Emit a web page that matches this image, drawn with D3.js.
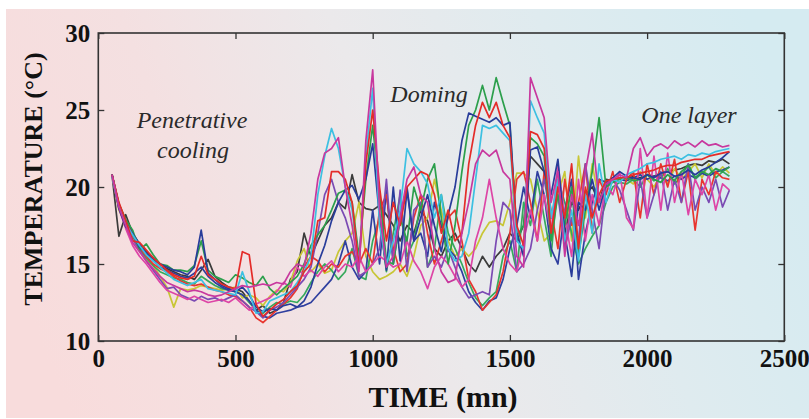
<!DOCTYPE html>
<html>
<head>
<meta charset="utf-8">
<script src="https://cdn.jsdelivr.net/npm/d3@7"></script>
<style>
  body { margin: 0; background: #ffffff; }
  svg { display: block; }
</style>
</head>
<body>
<div id="chart"></div>
<script>
// time axis (minutes) shared by every probe
var times = [50, 75, 100, 125, 150, 175, 200, 225, 250, 275,
  300, 325, 350, 375, 400, 425, 450, 475, 500, 525,
  550, 575, 600, 625, 650, 675, 700, 725, 750, 775,
  800, 825, 850, 875, 900, 925, 950, 975, 1000, 1025,
  1050, 1075, 1100, 1125, 1150, 1175, 1200, 1225, 1250, 1275,
  1300, 1325, 1350, 1375, 1400, 1425, 1450, 1475, 1500, 1525,
  1550, 1575, 1600, 1625, 1650, 1675, 1700, 1725, 1750, 1775,
  1800, 1825, 1850, 1875, 1900, 1925, 1950, 1975, 2000, 2025,
  2050, 2075, 2100, 2125, 2150, 2175, 2200, 2225, 2250, 2275, 2300];

// temperature series (deg C), one per probe
var gray = [20.8, 16.8, 18.2, 17.0, 16.3, 15.8, 15.4, 15.0, 14.7, 14.5,
  14.3, 14.2, 14.0, 14.6, 15.3, 14.2, 13.8, 13.5, 13.4, 13.2,
  12.6, 12.0, 12.3, 11.8, 12.0, 12.5, 14.0, 14.5, 17.0, 15.5,
  16.5, 17.5, 18.0, 19.0, 18.6, 20.8, 19.0, 18.6, 18.5, 18.8,
  18.2, 17.5, 16.5, 17.5, 17.0, 18.5, 17.8, 16.0, 15.5, 16.5,
  17.0, 16.0, 15.0, 14.5, 15.5, 14.8, 15.5, 16.0, 17.0, 16.5,
  17.5, 22.0, 21.5, 21.0, 18.0, 19.5, 17.0, 19.0, 18.5, 19.5,
  20.0, 19.0, 20.5, 20.4, 20.6, 20.5, 20.7, 20.6, 20.8, 20.7,
  20.9, 21.0, 21.1, 21.2, 21.4, 21.5, 21.4, 21.7, 21.6, 21.8, 21.5];

var yellow = [20.8, 18.5, 17.6, 16.8, 16.0, 15.3, 14.9, 14.2, 13.5, 12.2,
  13.4, 13.3, 13.4, 13.6, 13.5, 13.4, 13.3, 13.4, 13.5, 12.8,
  13.0, 12.8, 12.3, 12.9, 13.3, 13.2, 13.8, 15.2, 16.0, 14.5,
  15.0, 14.4, 14.6, 15.8, 16.5, 17.0, 19.0, 15.5, 14.5, 14.0,
  14.2, 14.5, 15.0, 14.2, 15.5, 17.5, 18.0, 20.5, 18.5, 16.5,
  15.5, 16.0, 15.5, 16.0, 17.0, 17.7, 17.8, 17.5, 19.0, 20.9,
  20.9, 20.5, 18.5, 16.5, 17.0, 19.5, 21.0, 16.5, 22.0, 18.0,
  21.5, 19.0, 20.0, 20.4, 20.6, 20.5, 20.2, 21.0, 20.5, 20.0,
  20.8, 20.2, 21.2, 20.5, 21.0, 21.5, 20.6, 21.5, 20.8, 21.3, 20.9];

var green2 = [20.8, 18.7, 17.6, 16.8, 16.0, 15.4, 14.9, 14.5, 14.3, 14.1,
  14.0, 13.8, 13.7, 14.2, 13.9, 13.6, 13.4, 13.3, 13.2, 13.0,
  12.5, 12.0, 11.8, 12.2, 12.5, 12.4, 12.6, 12.5, 13.0, 13.8,
  14.5, 15.0, 14.6, 14.0, 14.5, 16.0, 14.2, 14.0, 16.5, 18.0,
  14.5, 17.0, 19.5, 15.5, 16.5, 19.0, 14.8, 16.0, 19.5, 17.0,
  16.0, 15.0, 13.8, 12.8, 12.3, 12.8, 13.2, 15.5, 16.5, 14.5,
  19.0, 17.5, 20.5, 18.0, 15.5, 20.5, 19.0, 17.0, 15.0, 16.0,
  16.8, 17.5, 19.0, 20.0, 20.3, 20.2, 20.5, 20.0, 20.8, 20.4,
  20.6, 21.2, 20.2, 20.7, 21.5, 20.5, 20.9, 21.3, 20.6, 21.0, 20.7];

var blue2 = [20.8, 18.9, 17.8, 17.0, 16.3, 15.7, 15.2, 14.8, 14.6, 14.4,
  14.2, 14.1, 14.4, 14.8, 14.2, 13.8, 13.5, 13.3, 13.2, 13.0,
  12.6, 12.0, 11.6, 11.5, 11.8, 11.9, 12.0, 12.2, 12.3, 12.5,
  13.0, 13.5, 14.0, 15.0, 16.5, 14.8, 14.0, 14.5, 18.5, 15.0,
  19.8, 15.0, 18.0, 20.0, 16.5, 17.0, 15.5, 19.0, 17.5, 16.0,
  15.5, 14.5, 13.2, 12.5, 12.0, 12.6, 12.8, 14.0, 16.0, 17.5,
  20.0, 18.0, 21.0, 19.5, 16.0, 15.0, 18.5, 20.5, 14.0, 17.0,
  19.0, 20.5, 20.3, 20.6, 20.5, 20.4, 20.6, 20.8, 20.5, 20.7,
  20.6, 20.4, 20.7, 20.5, 20.8, 20.6, 20.9, 20.7, 21.0, 21.1, 21.3];

var red2 = [20.8, 18.8, 17.7, 16.9, 16.1, 15.5, 15.0, 14.7, 14.5, 14.2,
  13.9, 13.7, 13.6, 13.7, 13.5, 13.3, 13.2, 13.0, 12.9, 12.6,
  12.2, 11.5, 11.2, 11.6, 12.0, 12.4, 12.8, 13.4, 14.8, 15.5,
  15.2, 14.5, 15.0, 14.8, 15.5, 15.8, 15.0, 16.0, 15.0, 18.5,
  19.5, 16.0, 14.5, 15.0, 18.0, 19.5, 17.0, 15.0, 16.5, 18.0,
  18.5, 16.5, 14.0, 13.2, 12.0, 12.5, 13.0, 14.5, 17.0, 20.5,
  21.0, 19.0, 16.5, 21.0, 18.5, 16.0, 20.5, 17.5, 19.0, 21.5,
  17.0, 20.5, 19.5, 21.0, 19.0, 20.5, 21.0, 18.0, 21.5, 19.5,
  21.5, 20.0, 21.8, 19.0, 21.0, 17.2, 20.5, 19.5, 21.0, 20.6, 20.5];

var purple = [20.8, 18.8, 17.5, 16.6, 15.9, 15.2, 14.6, 14.0, 13.4, 13.5,
  13.0, 12.8, 12.6, 12.9, 12.7, 12.8, 12.6, 12.8, 13.0, 12.6,
  12.2, 11.9, 11.5, 12.0, 12.2, 12.5, 13.0, 13.5, 14.0, 14.8,
  17.0, 19.5, 20.5, 19.0, 18.0, 16.5, 14.2, 14.5, 15.0, 16.0,
  20.5, 15.0, 19.8, 14.5, 18.5, 19.0, 14.8, 15.5, 14.8, 16.0,
  14.8, 13.5, 12.8, 13.0, 13.2, 13.0, 16.5, 19.0, 18.5, 14.5,
  15.0, 16.0, 18.5, 20.5, 18.0, 19.5, 16.0, 18.0, 16.5, 21.5,
  18.5, 16.0, 20.0, 20.5, 19.8, 18.5, 17.2, 20.5, 18.0, 19.5,
  21.0, 18.5, 20.5, 19.0, 21.5, 18.5, 20.0, 19.0, 20.5, 18.7, 19.8];

var pink = [20.7, 18.6, 17.3, 16.2, 15.5, 15.0, 14.4, 13.8, 13.3, 13.1,
  12.9, 12.7, 12.9, 12.7, 12.5, 12.6, 12.7, 12.5, 12.8, 12.4,
  12.0, 12.4, 12.6, 12.8, 13.2, 13.8, 13.5, 14.8, 14.2, 14.6,
  14.2, 14.8, 15.2, 14.5, 15.0, 14.8, 15.5, 14.5, 15.0, 15.5,
  15.2, 14.8, 15.0, 16.5, 15.2, 14.5, 13.4, 14.8, 15.5, 15.0,
  14.2, 13.5, 14.0, 16.5, 18.0, 20.5, 18.0, 16.0, 15.0, 14.5,
  16.5, 18.5, 16.5, 19.5, 17.0, 21.5, 18.0, 15.5, 20.5, 16.5,
  19.5, 17.5, 20.2, 19.5, 21.0, 18.0, 17.3, 22.5, 18.0, 22.0,
  18.5, 22.2, 19.0, 21.0, 18.2, 20.5, 19.5, 20.8, 18.5, 20.2, 19.8];

var green = [20.8, 18.9, 17.9, 17.2, 15.9, 16.3, 15.6, 15.0, 14.9, 14.6,
  14.6, 14.5, 14.9, 16.5, 14.6, 14.2, 14.0, 13.8, 14.3, 14.1,
  13.8, 13.6, 14.2, 13.4, 13.0, 13.4, 13.8, 14.2, 15.0, 16.2,
  16.9, 17.5, 18.5, 19.6, 19.8, 19.0, 15.5, 20.5, 24.0, 19.5,
  15.2, 15.0, 18.0, 16.5, 20.0, 18.5, 20.5, 21.5, 18.0, 15.0,
  17.5, 21.0, 24.0, 25.0, 26.6, 25.0, 27.1, 25.5, 24.0, 16.8,
  17.5, 23.2, 22.8, 22.0, 16.5, 19.5, 17.5, 20.0, 15.5, 18.5,
  21.0, 24.5, 20.0, 20.3, 20.5, 20.6, 20.4, 20.5, 20.8, 20.5,
  20.3, 20.8, 20.4, 21.0, 21.4, 20.6, 21.0, 20.8, 21.2, 21.0, 21.3];

var blue = [20.8, 18.6, 17.4, 17.0, 16.1, 15.7, 15.3, 15.0, 14.8, 14.6,
  14.5, 14.3, 14.8, 17.2, 14.4, 14.0, 13.6, 13.4, 13.2, 13.5,
  13.0, 12.2, 11.9, 12.1, 12.0, 12.3, 12.4, 12.2, 12.6, 13.5,
  15.0, 16.2, 17.8, 19.0, 19.8, 20.1, 19.2, 20.5, 22.8, 18.0,
  14.6, 20.0, 15.2, 19.8, 16.5, 18.0, 19.5, 17.5, 15.8, 18.2,
  20.0, 23.0, 24.8, 24.6, 24.4, 24.2, 24.5, 24.0, 24.2, 17.0,
  15.5, 22.4, 22.6, 21.0, 19.5, 21.8, 17.0, 14.2, 19.0, 18.5,
  20.5, 18.5, 20.2, 20.6, 21.0, 20.7, 20.6, 20.5, 20.8, 20.6,
  20.9, 21.0, 20.7, 20.8, 21.1, 20.8, 21.1, 21.3, 21.6, 21.9, 22.3];

var cyan = [20.7, 18.8, 17.6, 16.9, 16.2, 15.6, 15.2, 14.8, 14.4, 14.0,
  13.8, 13.6, 13.8, 14.0, 13.4, 13.3, 13.2, 13.1, 13.0, 14.5,
  13.2, 11.8, 11.9, 12.6, 12.8, 13.0, 13.2, 13.8, 14.5, 15.5,
  19.5, 22.0, 23.8, 22.5, 20.0, 18.5, 15.0, 22.0, 26.4, 17.5,
  15.0, 16.5, 18.5, 22.5, 21.5, 21.0, 20.2, 18.0, 19.5, 16.0,
  15.2, 15.5, 17.0, 20.5, 24.0, 23.8, 24.0, 23.5, 23.0, 16.5,
  16.0, 25.6, 24.5, 23.5, 18.0, 20.5, 16.5, 18.5, 15.2, 19.5,
  17.0, 21.5, 19.0, 20.5, 20.3, 20.8, 21.0, 21.2, 21.5, 21.6,
  21.8, 21.9, 22.0, 21.8, 22.1, 22.0, 22.2, 22.1, 22.3, 22.4, 22.5];

var red = [20.8, 19.0, 17.8, 16.5, 16.4, 15.9, 15.4, 15.0, 14.6, 14.3,
  14.1, 14.0, 14.2, 15.5, 14.3, 14.0, 13.7, 13.5, 13.4, 15.8,
  15.6, 12.4, 11.6, 12.0, 12.4, 12.7, 13.2, 13.6, 14.5, 15.0,
  17.8, 18.0, 21.0, 21.0, 20.5, 19.0, 14.8, 21.5, 25.0, 20.0,
  16.5, 19.0, 17.5, 20.0, 20.5, 21.0, 20.8, 19.5, 17.0, 18.5,
  16.5, 17.0, 21.5, 24.0, 25.5, 24.5, 25.5, 24.0, 23.2, 17.5,
  16.2, 23.6, 23.4, 22.5, 17.0, 20.0, 18.0, 21.5, 16.0, 20.0,
  18.0, 19.5, 20.4, 20.5, 20.6, 20.6, 20.8, 20.9, 21.0, 21.1,
  21.3, 21.4, 21.4, 21.6, 21.7, 21.8, 21.8, 22.0, 22.1, 22.2, 22.3];

var magenta = [20.8, 18.7, 17.5, 16.4, 15.8, 15.2, 14.7, 14.2, 13.8, 13.6,
  13.4, 13.2, 13.3, 13.2, 13.0, 12.9, 13.0, 13.2, 13.4, 13.6,
  13.5, 13.6, 13.7, 13.6, 13.8, 13.7, 14.5, 15.0, 14.8, 17.0,
  20.5, 22.2, 22.5, 23.2, 20.0, 17.5, 14.5, 23.0, 27.6, 18.5,
  14.8, 15.5, 18.0, 20.5, 21.3, 19.5, 19.0, 16.0, 14.5, 13.8,
  14.0, 17.0, 19.0, 21.5, 22.4, 22.0, 22.4, 21.0, 20.5, 15.5,
  14.8, 27.1, 25.8, 24.5, 19.0, 21.0, 15.5, 19.5, 17.5, 21.0,
  23.5, 19.0, 20.2, 20.5, 20.8, 20.6, 22.5, 23.2, 22.0, 22.6,
  22.8, 22.5, 23.0, 22.7, 22.9, 22.6, 23.0, 22.7, 22.8, 22.6, 22.7];

var series = [
  {values: gray, color: "#3b3b3b"},
  {values: yellow, color: "#c8c636"},
  {values: green2, color: "#36a95c"},
  {values: blue2, color: "#2f3f9f"},
  {values: red2, color: "#e8352f"},
  {values: purple, color: "#7b4bb3"},
  {values: pink, color: "#dd45a6"},
  {values: green, color: "#2c9f4c"},
  {values: blue, color: "#283c9a"},
  {values: cyan, color: "#3cc0e2"},
  {values: red, color: "#e42c29"},
  {values: magenta, color: "#c8389e"}
];

var xTicks = [0, 500, 1000, 1500, 2000, 2500];
var yTicks = [10, 15, 20, 25, 30];

// set the dimensions of the graph
var W = 809, H = 419;
var plotL = 98.3, plotR = 784.3, plotT = 33, plotB = 341;

var svg = d3.select("#chart")
  .append("svg")
  .attr("width", W)
  .attr("height", H);

// background gradient
var defs = svg.append("defs");
var grad = defs.append("linearGradient")
  .attr("id", "bg")
  .attr("x1", "0%").attr("y1", "60%")
  .attr("x2", "100%").attr("y2", "40%");
grad.append("stop").attr("offset", "0%").attr("stop-color", "#f8dcdc");
grad.append("stop").attr("offset", "25%").attr("stop-color", "#f4e0e1");
grad.append("stop").attr("offset", "50%").attr("stop-color", "#ebe9eb");
grad.append("stop").attr("offset", "75%").attr("stop-color", "#dfebef");
grad.append("stop").attr("offset", "100%").attr("stop-color", "#d5ebf1");

svg.append("rect")
  .attr("x", 6).attr("y", 9)
  .attr("width", W - 6).attr("height", H - 10)
  .attr("fill", "url(#bg)");

var x = d3.scaleLinear().domain([0, 2500]).range([plotL, plotR]);
var y = d3.scaleLinear().domain([10, 30]).range([plotB, plotT]);

// Lines
var line = d3.line()
  .x(function(d, i) { return x(times[i]); })
  .y(function(d) { return y(d); });

svg.append("g")
  .selectAll("path")
  .data(series)
  .enter()
  .append("path")
  .attr("d", function(d) { return line(d.values); })
  .attr("fill", "none")
  .attr("stroke", function(d) { return d.color; })
  .attr("stroke-width", 1.7)
  .attr("stroke-linejoin", "round");

// Axes, ticks pointing inward
var fontFam = "'Liberation Serif', 'Times New Roman', serif";

svg.append("g")
  .attr("transform", "translate(0," + plotB + ")")
  .call(d3.axisBottom(x).tickValues(xTicks).tickFormat(d3.format("d"))
    .tickSizeInner(-6).tickSizeOuter(0).tickPadding(8));
svg.append("g")
  .attr("transform", "translate(" + plotL + ",0)")
  .call(d3.axisLeft(y).tickValues(yTicks).tickFormat(d3.format("d"))
    .tickSizeInner(-6).tickSizeOuter(0).tickPadding(8));
svg.append("g")
  .attr("transform", "translate(0," + plotT + ")")
  .call(d3.axisTop(x).tickValues(xTicks).tickSizeInner(-6).tickSizeOuter(0).tickFormat(""));
svg.append("g")
  .attr("transform", "translate(" + plotR + ",0)")
  .call(d3.axisRight(y).tickValues(yTicks).tickSizeInner(-6).tickSizeOuter(0).tickFormat(""));

svg.selectAll(".domain").remove();
svg.selectAll(".tick line").attr("stroke", "#333").attr("stroke-width", 1.3);
svg.selectAll(".tick text")
  .attr("fill", "#111")
  .style("font-family", fontFam)
  .style("font-weight", "bold")
  .style("font-size", "25px");

// frame
svg.append("rect")
  .attr("x", plotL).attr("y", plotT)
  .attr("width", plotR - plotL).attr("height", plotB - plotT)
  .attr("fill", "none")
  .attr("stroke", "#333")
  .attr("stroke-width", 1.6);

// X label
svg.append("text")
  .attr("x", 443).attr("y", 407)
  .attr("text-anchor", "middle")
  .style("font-family", fontFam)
  .style("font-weight", "bold")
  .style("font-size", "30px")
  .attr("fill", "#111")
  .text("TIME (mn)");

// Y label
svg.append("text")
  .attr("transform", "translate(42,179)rotate(-90)")
  .attr("text-anchor", "middle")
  .style("font-family", fontFam)
  .style("font-weight", "bold")
  .style("font-size", "26px")
  .attr("fill", "#111")
  .text("TEMPERATURE (\u00B0C)");

// phase annotations
var notes = [
  {text: "Penetrative", x: 192, y: 128},
  {text: "cooling", x: 193, y: 158},
  {text: "Doming", x: 429, y: 102},
  {text: "One layer", x: 689, y: 123}
];
svg.append("g")
  .selectAll("text")
  .data(notes)
  .enter()
  .append("text")
  .attr("x", function(d) { return d.x; })
  .attr("y", function(d) { return d.y; })
  .attr("text-anchor", "middle")
  .style("font-family", fontFam)
  .style("font-style", "italic")
  .style("font-size", "24px")
  .attr("fill", "#2a2a2a")
  .text(function(d) { return d.text; });
</script>
</body>
</html>
